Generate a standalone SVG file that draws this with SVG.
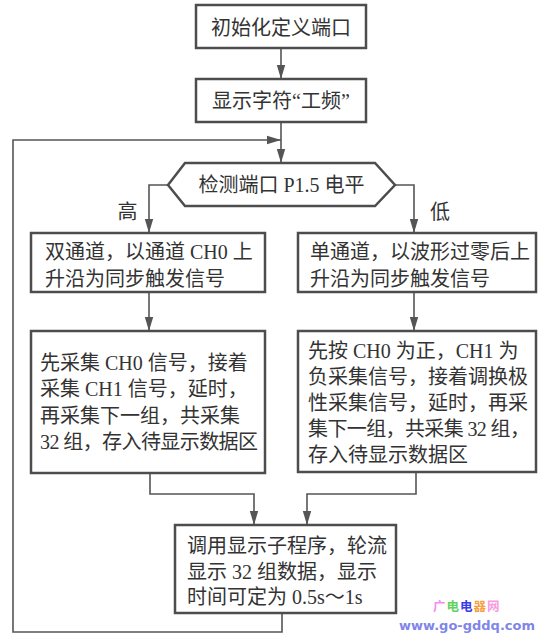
<svg xmlns="http://www.w3.org/2000/svg" width="543" height="639" viewBox="0 0 543 639">
<defs>
<marker id="arr" markerUnits="userSpaceOnUse" markerWidth="14" markerHeight="10" viewBox="0 0 14 10" refX="14" refY="5" orient="auto">
<path d="M0,0.8 L14,5 L0,9.2 z" fill="#555"/>
</marker>
<style>
.box{fill:#fff;stroke:#4d4d4d;stroke-width:2.5}
.c{fill:none;stroke:#555;stroke-width:1.6}
.a{marker-end:url(#arr)}
.t{font-family:"Liberation Serif","Noto Sans CJK SC",serif;font-size:20px;fill:#333}
.m{text-anchor:middle}
.w{font-family:"DejaVu Sans","Noto Sans CJK SC",sans-serif;font-weight:bold}
</style>
</defs>
<rect width="543" height="639" fill="#fff"/>
<g id="connectors">
<path class="c a" d="M281,48 V79"/>
<path class="c a" d="M281,122 V163"/>
<path class="c a" d="M282,613 V632 H13 V140 H281"/>
<path class="c a" d="M168,185 H149 V233"/>
<path class="c a" d="M395,185 H414 V233"/>
<path class="c a" d="M149,292 V331"/>
<path class="c a" d="M414,292 V331"/>
<path class="c a" d="M150,473 V494 H254 V525"/>
<path class="c a" d="M416,472 V494 H307 V525"/>
</g>
<g id="n1">
<rect class="box" x="196" y="5" width="170" height="43"/>
<text class="t m" x="281" y="34.5">初始化定义端口</text>
</g>
<g id="n2">
<rect class="box" x="196" y="79" width="170" height="43"/>
<text class="t m" x="281" y="107.5">显示字符“工频”</text>
</g>
<g id="n3">
<polygon class="box" points="168,185 185,163 375,163 395,185 375,206 185,206"/>
<text class="t m" x="281.5" y="192">检测端口 P1.5 电平</text>
</g>
<g id="lbl-high"><text class="t m" x="127.5" y="219">高</text></g>
<g id="lbl-low"><text class="t m" x="440" y="219">低</text></g>
<g id="n4">
<rect class="box" x="31" y="233" width="234" height="59"/>
<text class="t" x="45" y="259">双通道，以通道 CH0 上</text>
<text class="t" x="45" y="286">升沿为同步触发信号</text>
</g>
<g id="n5">
<rect class="box" x="298" y="233" width="238" height="59"/>
<text class="t" x="310" y="259">单通道，以波形过零后上</text>
<text class="t" x="310" y="286">升沿为同步触发信号</text>
</g>
<g id="n6">
<rect class="box" x="31" y="331" width="234" height="142"/>
<text class="t" x="40" y="370">先采集 CH0 信号，接着</text>
<text class="t" x="40" y="396">采集 CH1 信号，延时，</text>
<text class="t" x="40" y="422.5">再采集下一组，共采集</text>
<text class="t" x="40" y="449" textLength="218" lengthAdjust="spacing">32 组，存入待显示数据区</text>
</g>
<g id="n7">
<rect class="box" x="298" y="331" width="238" height="141"/>
<text class="t" x="308" y="357.5">先按 CH0 为正，CH1 为</text>
<text class="t" x="308" y="383.5">负采集信号，接着调换极</text>
<text class="t" x="308" y="409.5">性采集信号，延时，再采</text>
<text class="t" x="308" y="435.5" textLength="222" lengthAdjust="spacing">集下一组，共采集 32 组，</text>
<text class="t" x="308" y="461.5">存入待显示数据区</text>
</g>
<g id="n8">
<rect class="box" x="175" y="525" width="221" height="88"/>
<text class="t" x="187" y="553">调用显示子程序，轮流</text>
<text class="t" x="187" y="578.5">显示 32 组数据，显示</text>
<text class="t" x="187" y="604">时间可定为 0.5s～1s</text>
</g>
<g id="watermark">
<text class="w" x="433" y="611" font-size="12.5" fill="#f48cf0">广</text>
<text class="w" x="446.5" y="611" font-size="12.5" fill="#5fd35f">电</text>
<text class="w" x="460" y="611" font-size="12.5" fill="#3a3ae8">电</text>
<text class="w" x="473.5" y="611" font-size="12.5" fill="#f7a040">器</text>
<text class="w" x="487" y="611" font-size="12.5" fill="#f79ce0">网</text>
<text class="w" x="399" y="630" font-size="12.5" fill="#7f86e8" textLength="136" lengthAdjust="spacingAndGlyphs">www.go-gddq.com</text>
</g>
</svg>
